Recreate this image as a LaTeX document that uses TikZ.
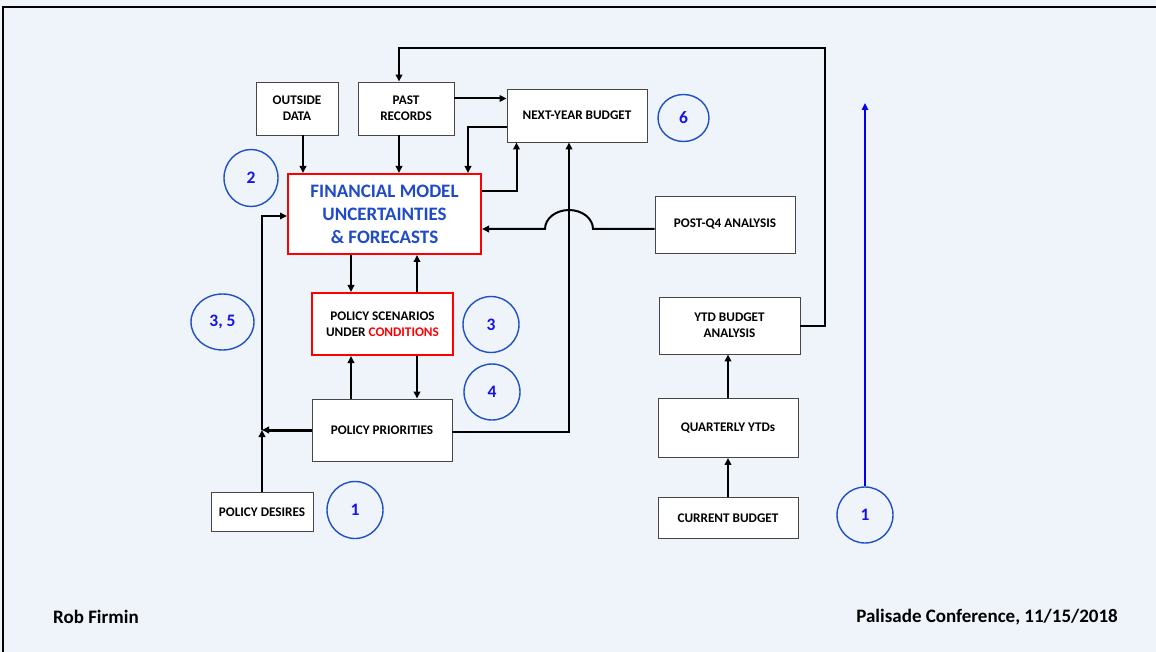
\documentclass[tikz,border=0pt]{standalone}
\usepackage{fontspec}
\setmainfont{Carlito}
\usetikzlibrary{shapes.geometric,arrows.meta}
\definecolor{bgblue}{RGB}{239,243,250}
\definecolor{boxgray}{RGB}{70,70,70}
\definecolor{numblue}{RGB}{30,80,200}
\definecolor{digitblue}{RGB}{20,20,230}
\definecolor{fmblue}{RGB}{30,75,200}
\definecolor{lineblue}{RGB}{0,0,240}
\begin{document}
\begin{tikzpicture}[x=1pt,y=-1pt,
  box/.style={draw=boxgray, line width=0.9pt, fill=white, inner sep=2pt, align=center,
    font=\fontsize{13.2}{16}\selectfont\bfseries},
  redbox/.style={box, draw=red, line width=2pt},
  num/.style={ellipse, draw=numblue, line width=1.4pt, inner sep=0pt, text=digitblue,
    font=\fontsize{17.5}{19}\selectfont\bfseries},
  wire/.style={line width=2pt},
  conn/.style={wire, -{Triangle[length=7pt,width=6.5pt]}},
  foot/.style={font=\fontsize{19}{21}\selectfont\bfseries, inner sep=0pt}]
\useasboundingbox (0,0) rectangle (1156,652);
\fill[bgblue] (0,0) rectangle (1156,652);
\draw[line width=2pt] (3,652) -- (3,7) -- (1156,7);

% boxes
\node[box, minimum width=82pt, minimum height=53pt] (od) at (297,108.5) {OUTSIDE\\DATA};
\node[box, minimum width=96pt, minimum height=53pt] (pr) at (406,108.5) {PAST\\RECORDS};
\node[box, minimum width=140pt, minimum height=53pt] (nyb) at (577,115.5) {NEXT-YEAR BUDGET};
\node[redbox, minimum width=193pt, minimum height=80pt, text=fmblue,
  font=\fontsize{19}{23}\selectfont\bfseries] (fm) at (384.5,214) {FINANCIAL MODEL\\UNCERTAINTIES\\\& FORECASTS};
\node[box, minimum width=140pt, minimum height=57pt] (pq) at (725,224.5) {POST-Q4 ANALYSIS};
\node[redbox, minimum width=141pt, minimum height=62pt] (ps) at (382.5,324) {POLICY SCENARIOS\\UNDER \textcolor{red}{CONDITIONS}};
\node[box, minimum width=140pt, minimum height=62pt] (pp) at (382,430) {POLICY PRIORITIES};
\node[box, minimum width=102pt, minimum height=39pt] (pd) at (262,512) {POLICY DESIRES};
\node[box, minimum width=141pt, minimum height=57pt] (ytd) at (729.5,325.5) {YTD BUDGET\\ANALYSIS};
\node[box, minimum width=140pt, minimum height=59pt] (qy) at (728,428) {QUARTERLY YTDs};
\node[box, minimum width=140pt, minimum height=41pt] (cb) at (728,518) {CURRENT BUDGET};

% numbered circles
\node[num, minimum width=51pt, minimum height=47pt] (c6) at (683.5,118) {6};
\node[num, minimum width=54pt, minimum height=57pt] (c2) at (251,178) {2};
\node[num, minimum width=63pt, minimum height=56pt] (c35) at (222.5,322) {3, 5};
\node[num, minimum width=56pt, minimum height=56pt] (c3) at (491,324.5) {3};
\node[num, minimum width=56pt, minimum height=56pt] (c4) at (492,392) {4};
\node[num, minimum width=56pt, minimum height=57pt] (c1a) at (355,510) {1};
\node[num, minimum width=56pt, minimum height=56pt] (c1b) at (865,515) {1};

% helper coordinates
\coordinate (j) at (262,430);
\coordinate (hopR) at (593,229);
\coordinate (loopR) at (825,48);
\coordinate (topB) at (865,103);

% connectors
\draw[conn] ([xshift=6pt]od.south) -- ([xshift=6pt]od.south |- fm.north);
\draw[conn] ([xshift=-7pt]pr.south) -- ([xshift=-7pt]pr.south |- fm.north);
\draw[conn] ([yshift=10pt]pr.east) -- ([yshift=10pt]pr.east -| nyb.west);
\draw[conn] ([yshift=-12pt]nyb.west) -| ([xshift=83.5pt]fm.north);
\draw[conn] ([yshift=23pt]fm.east) -| ([xshift=-60.5pt]nyb.south);
\draw[conn] ([yshift=-2pt]pp.east) -| ([xshift=-8pt]nyb.south);
\draw[conn] (ytd.east) -| (loopR) -| ([xshift=-7pt]pr.north);
\draw[conn] (pq.west |- hopR) -- (hopR) arc[start angle=0, end angle=-180, x radius=24, y radius=19] -- (fm.east |- hopR);
\draw[conn] ([xshift=-33.5pt]fm.south) -- ([xshift=-33.5pt]fm.south |- ps.north);
\draw[conn] ([xshift=32.5pt]fm.south |- ps.north) -- ([xshift=32.5pt]fm.south);
\draw[conn] ([xshift=-33.5pt]fm.south |- pp.north) -- ([xshift=-33.5pt]fm.south |- ps.south);
\draw[conn] ([xshift=32.5pt]fm.south |- ps.south) -- ([xshift=32.5pt]fm.south |- pp.north);
\draw[conn, line width=3pt] (pp.west |- j) -- (j);
\draw[conn] (pd.north) -- (j);
\draw[conn] (j) |- ([yshift=-2pt]fm.west);
\draw[conn] (qy.north) -- (qy.north |- ytd.south);
\draw[conn] (cb.north) -- (cb.north |- qy.south);
\draw[conn, draw=lineblue, line width=1.6pt] (c1b.north) -- (topB);

% footer
\node[foot, anchor=west] (auth) at (53,617) {Rob Firmin};
\node[foot, anchor=east] (conf) at (1118,617) {Palisade Conference, 11/15/2018};
\end{tikzpicture}
\end{document}
